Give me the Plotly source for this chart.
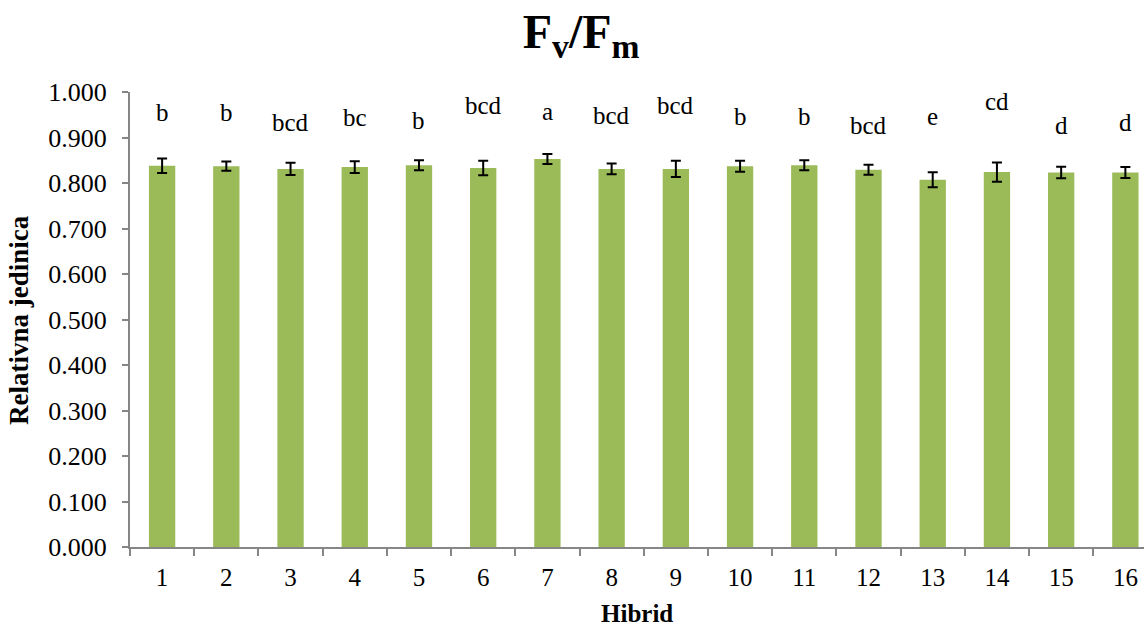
import plotly.graph_objects as go

categories = [str(i) for i in range(1, 17)]
values = [0.838, 0.837, 0.831, 0.835, 0.839, 0.833, 0.853, 0.831,
          0.831, 0.837, 0.839, 0.829, 0.807, 0.824, 0.823, 0.823]
errors = [0.016, 0.010, 0.0135, 0.013, 0.011, 0.016, 0.011, 0.012,
          0.018, 0.012, 0.011, 0.011, 0.0165, 0.021, 0.0125, 0.012]
letters = ["b", "b", "bcd", "bc", "b", "bcd", "a", "bcd",
           "bcd", "b", "b", "bcd", "e", "cd", "d", "d"]
letter_y = [0.954, 0.954, 0.932, 0.945, 0.937, 0.971, 0.957, 0.949,
            0.971, 0.946, 0.946, 0.927, 0.947, 0.979, 0.927, 0.933]
y_ticks = [i / 10 for i in range(11)]
y_tick_labels = [f"{v:.3f}" for v in y_ticks]

font = "Liberation Serif, Times New Roman, serif"

fig = go.Figure()
fig.add_trace(go.Bar(
    x=categories, y=values,
    marker=dict(color="#9BBB59", line=dict(width=0)),
    width=0.41,
    error_y=dict(type="data", array=errors, visible=True,
                 color="black", thickness=2, width=5),
))

for i, (t, ly) in enumerate(zip(letters, letter_y)):
    fig.add_annotation(x=i, y=ly, xref="x", yref="y", text=t,
                       showarrow=False, yanchor="middle",
                       font=dict(family=font, size=25, color="black"))

fig.add_annotation(x=0.5, y=-0.147, xref="paper", yref="paper",
                   text="<b>Hibrid</b>", showarrow=False,
                   xanchor="center", yanchor="middle",
                   font=dict(family=font, size=25, color="black"))
fig.add_annotation(x=-0.110, y=0.5, xref="paper", yref="paper",
                   text="<b>Relativna jedinica</b>", showarrow=False,
                   textangle=-90, xanchor="center", yanchor="middle",
                   font=dict(family=font, size=27, color="black"))

fig.update_layout(
    width=1144, height=626,
    paper_bgcolor="white", plot_bgcolor="white",
    margin=dict(l=130, r=0, t=92, b=79),
    showlegend=False,
    title=dict(text="<b>F<sub>v</sub>/F<sub>m</sub></b>", x=0.508, xanchor="center",
               y=0.95, yanchor="middle",
               font=dict(family=font, size=48, color="black")),
    font=dict(family=font, color="black"),
)
fig.update_xaxes(
    type="category", range=[-0.5, 15.29],
    showline=True, linecolor="#868686", linewidth=2,
    ticks="outside", tickson="boundaries", ticklen=7, tickcolor="#868686", tickwidth=2,
    tickfont=dict(family=font, size=25, color="black"),
    ticklabelstandoff=7,
    showgrid=False, zeroline=False,
)
fig.update_yaxes(
    range=[0, 1.0], tickvals=y_ticks, ticktext=y_tick_labels,
    showline=True, linecolor="#868686", linewidth=2,
    ticks="outside", ticklen=6, tickcolor="#868686", tickwidth=2,
    tickfont=dict(family=font, size=26, color="black"),
    ticklabelstandoff=10,
    showgrid=False, zeroline=False,
)

fig.write_html("out.html", config={"displayModeBar": False},
               post_script="document.body.style.margin='0';document.body.style.overflow='hidden';")
